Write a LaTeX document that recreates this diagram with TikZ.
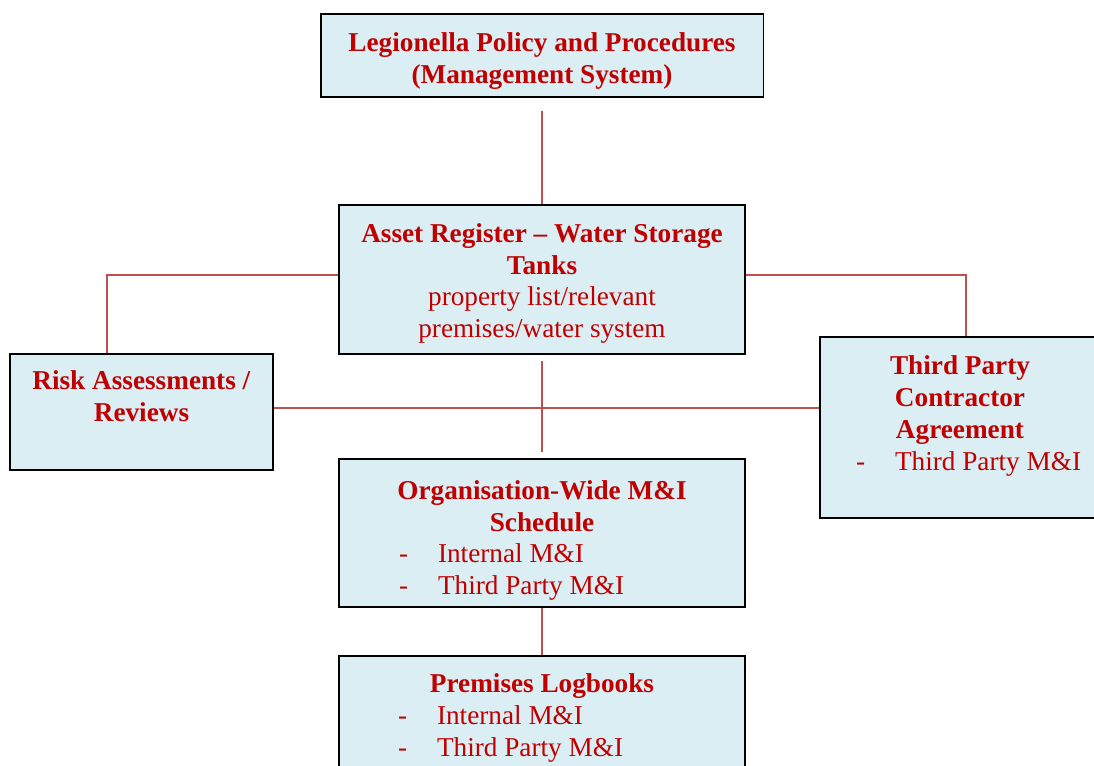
\documentclass[tikz,border=0pt]{standalone}
\usepackage{fontspec}
\setmainfont{Liberation Serif}
\usetikzlibrary{positioning,calc}
\definecolor{boxfill}{HTML}{DAEEF3}
\definecolor{textred}{HTML}{C00000}
\definecolor{linkred}{HTML}{C0504D}
\newcommand{\listline}[2]{\makebox[#1][l]{\makebox[0.78cm][l]{-}#2}}

\begin{document}
\begin{tikzpicture}
[x=0.02cm, y=-0.02cm,
box/.style={draw=black, line width=1.1pt, fill=boxfill},
boxtext/.style={text=textred, align=center, inner sep=0pt, font=\fontsize{15.5}{18.1}\selectfont},
link/.style={draw=linkred, line width=1.1pt}]
  \useasboundingbox (0,0) rectangle (1094,765);
  \fill[white] (0,0) rectangle (1094,765);
  % boxes
  \node[box, minimum width=8.86cm, minimum height=1.66cm] (policy) at (542,55.5) {};
  \node[boxtext, below=0.38cm of policy.north] (policytext)
    {\textbf{Legionella Policy and Procedures}\\\textbf{(Management System)}};
  \node[box, minimum width=8.12cm, minimum height=2.98cm] (asset) at (542,279.5) {};
  \node[boxtext, below=0.38cm of asset.north] (assettext)
    {\textbf{Asset Register -- Water Storage}\\\textbf{Tanks}\\property list/relevant\\premises/water system};
  \node[box, minimum width=8.12cm, minimum height=2.96cm] (org) at (542,533) {};
  \node[boxtext, below=0.44cm of org.north] (orgtext)
    {\textbf{Organisation-Wide M\&I}\\\textbf{Schedule}\\\listline{5.72cm}{Internal M\&I}\\\listline{5.72cm}{Third Party M\&I}};
  \node[box, minimum width=5.26cm, minimum height=2.32cm] (risk) at (141.5,412) {};
  \node[boxtext, below=0.35cm of risk.north] (risktext) {\textbf{Risk Assessments /}\\\textbf{Reviews}};
  \node[box, minimum width=5.6cm, minimum height=3.62cm] (third) at (960,427.5) {};
  \node[boxtext, below=0.39cm of third.north] (thirdtext)
    {\textbf{Third Party}\\\textbf{Contractor}\\\textbf{Agreement}\\\listline{4.16cm}{Third Party M\&I}};
  \node[box, minimum width=8.12cm, minimum height=2.88cm] (premises) at (542,728) {};
  \node[boxtext, below=0.37cm of premises.north] (premisestext)
    {\textbf{Premises Logbooks}\\\listline{5.76cm}{Internal M\&I}\\\listline{5.76cm}{Third Party M\&I}};
  % connectors
  \draw[link, shorten <=0.26cm] (policy) -- (asset);
  \draw[link, shorten <=0.12cm, shorten >=0.12cm] (asset) -- (org);
  \draw[link] (org) -- (premises);
  \draw[link] ($(asset.west)+(0,-4.5)$) -| ($(risk.north)+(-34.5,0)$);
  \draw[link] ($(asset.east)+(0,-4.5)$) -| ($(third.north)+(6,0)$);
  \draw[link] ($(risk.east)+(0,-4)$) -- ($(third.west)+(0,-19.5)$);
\end{tikzpicture}
\end{document}
